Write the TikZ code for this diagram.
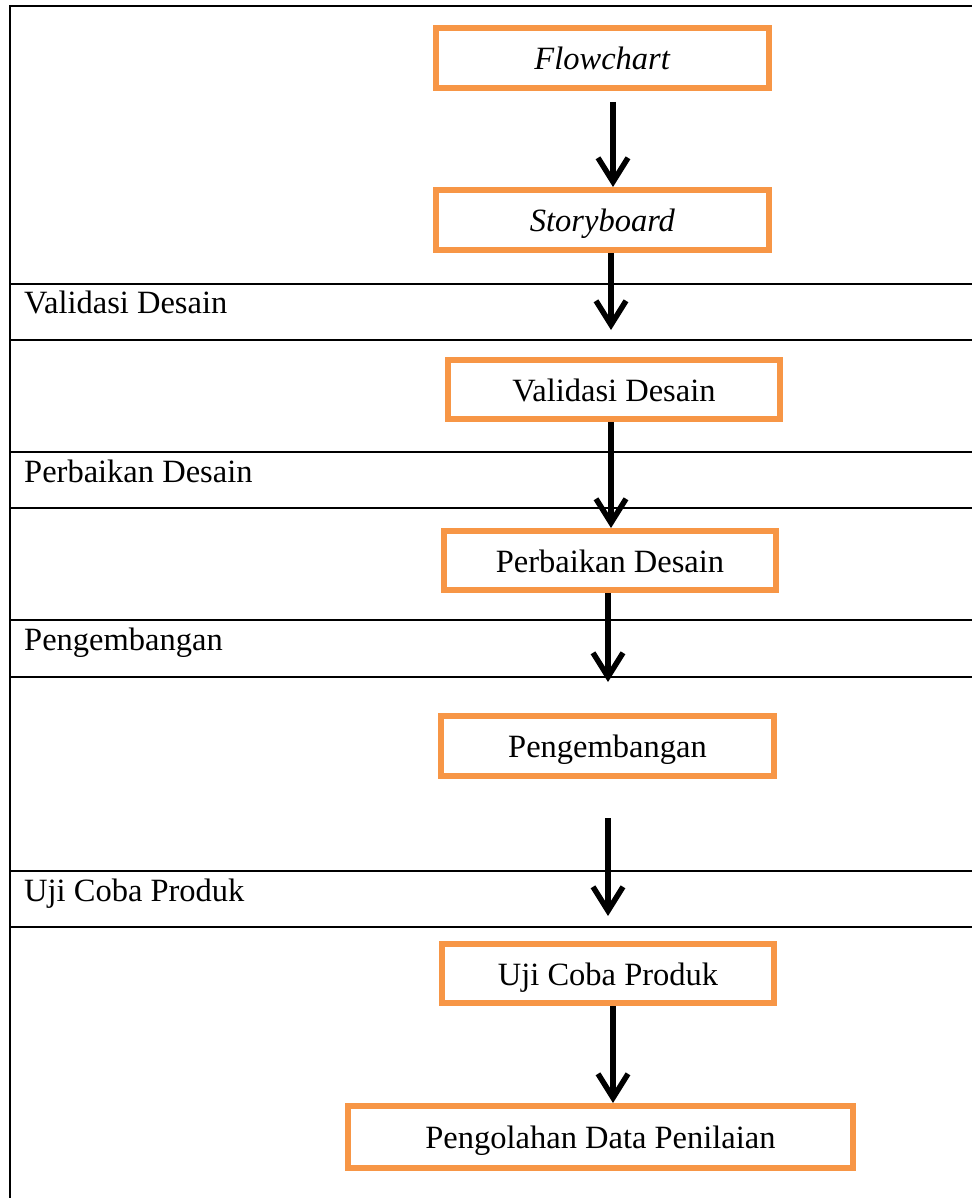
\documentclass[tikz,border=0pt]{standalone}
\usepackage{fontspec}
\setmainfont{Liberation Serif}
\usetikzlibrary{arrows.meta}
\definecolor{boxorange}{HTML}{F79646}
\begin{document}
\begin{tikzpicture}[x=1pt,y=-1pt,
  rule/.style={line width=2pt},
  stepbox/.style={draw=boxorange,line width=6pt,inner sep=0pt,
    text height=23pt,text depth=0pt,font=\fontsize{32.5}{38}\selectfont},
  lanelabel/.style={anchor=base west,inner sep=0pt,font=\fontsize{32.5}{38}\selectfont},
  arr/.style={line width=6pt,-{Straight Barb[length=24pt,width=30pt,line width=5.5pt]}}]
\useasboundingbox (0,0) rectangle (972,1198);

% frame and lane rules
\draw[rule] (10,1198) -- (10,6) -- (972,6);
\foreach \y in {284,340,452,508,620,677,871,927}
  \draw[rule] (10,\y) -- (972,\y);

% lane labels
\node[lanelabel] (lv) at (24,313) {Validasi Desain};
\node[lanelabel] (lp) at (24,482) {Perbaikan Desain};
\node[lanelabel] (lg) at (24,650) {Pengembangan};
\node[lanelabel] (lu) at (24,901) {Uji Coba Produk};

% process boxes
\node[stepbox,minimum width=333pt,minimum height=60pt] (flow)  at (602.5,58)   {\textit{Flowchart}};
\node[stepbox,minimum width=333pt,minimum height=60pt] (story) at (602.5,220)  {\textit{Storyboard}};
\node[stepbox,minimum width=332pt,minimum height=59pt] (valid) at (614,389.5)  {Validasi Desain};
\node[stepbox,minimum width=332pt,minimum height=59pt] (perb)  at (610,560.5)  {Perbaikan Desain};
\node[stepbox,minimum width=333pt,minimum height=60pt] (peng)  at (607.5,746)  {Pengembangan};
\node[stepbox,minimum width=332pt,minimum height=59pt] (uji)   at (608,973.5)  {Uji Coba Produk};
\node[stepbox,minimum width=505pt,minimum height=62pt] (olah)  at (600.5,1137) {Pengolahan Data Penilaian};

% arrow end points
\coordinate (a1) at (613,102);
\coordinate (a2) at (611,330);
\coordinate (a4) at (608,682);
\coordinate (a5s) at (608,818);
\coordinate (a5e) at (608,916);

% arrows
\draw[arr] (a1) -- (a1 |- story.north);
\draw[arr] (a2 |- story.south) -- (a2);
\draw[arr] ([xshift=-3pt]valid.south) -- ([xshift=-3pt]valid.south |- perb.north);
\draw[arr] (a4 |- perb.south) -- (a4);
\draw[arr] (a5s) -- (a5e);
\draw[arr] ([xshift=5pt]uji.south) -- ([xshift=5pt]uji.south |- olah.north);
\end{tikzpicture}
\end{document}
